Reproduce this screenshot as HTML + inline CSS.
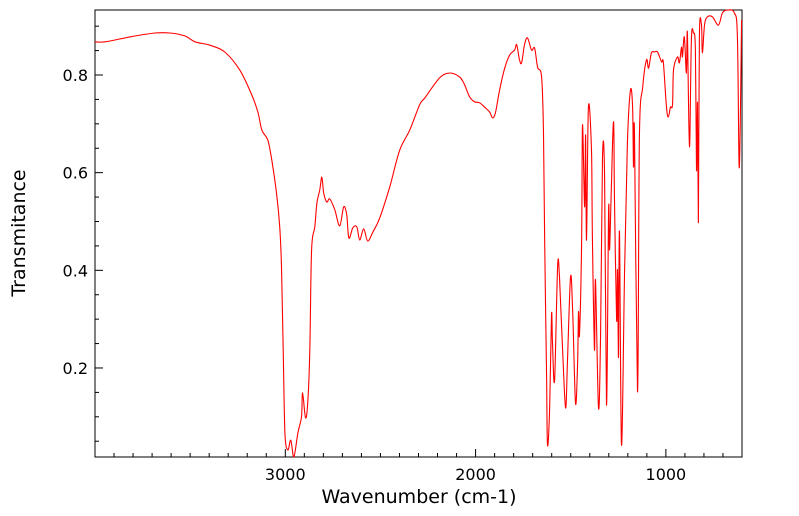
<!DOCTYPE html>
<html><head><meta charset="utf-8"><style>
html,body{margin:0;padding:0;background:#fff;}
svg{display:block;font-family:"DejaVu Sans","Liberation Sans",sans-serif;}
</style></head><body>
<svg id="chart" width="799" height="516">
<rect x="95" y="10" width="647" height="447" fill="#fff" stroke="#000" stroke-width="1"/>
<g id="ticks"></g>
<g id="tlabels"></g>
<path id="line" fill="none" stroke="#ff0000" stroke-width="1.1" stroke-linejoin="round"/>
<text x="419" y="503" text-anchor="middle" font-size="19">Wavenumber (cm-1)</text>
<text transform="translate(25,233) rotate(-90)" text-anchor="middle" font-size="19">Transmitance</text>
</svg>
<script>
const wavenumbers=[4000,3947,3816,3685,3606,3528,3475,3396,3318,3239,3176,3144,3123,3092,3071,3046,3029,3020,3011,3002,2987,2971,2955,2934,2915,2909,2894,2882,2871,2862,2845,2834,2819,2808,2798,2782,2766,2740,2714,2693,2677,2666,2645,2624,2609,2588,2567,2540,2504,2451,2399,2346,2294,2267,2189,2136,2084,2058,2031,2005,1979,1952,1926,1910,1895,1874,1847,1821,1795,1784,1769,1758,1743,1727,1706,1690,1674,1653,1643,1637,1627,1622,1611,1601,1596,1585,1569,1559,1543,1527,1517,1501,1490,1475,1464,1459,1454,1443,1438,1427,1422,1417,1407,1391,1386,1375,1370,1354,1343,1333,1322,1312,1301,1296,1286,1275,1270,1259,1254,1249,1244,1233,1217,1202,1186,1175,1170,1165,1149,1139,1122,1102,1091,1076,1060,1044,1023,1013,997,987,976,965,960,939,929,918,913,903,892,887,876,866,855,845,839,834,829,824,813,808,797,782,755,724,703,677,640,624,614,602];
const transmittance=[0.868,0.868,0.878,0.886,0.886,0.880,0.868,0.861,0.847,0.810,0.759,0.724,0.687,0.667,0.626,0.558,0.487,0.407,0.237,0.067,0.032,0.052,0.018,0.067,0.100,0.149,0.098,0.128,0.237,0.442,0.489,0.538,0.564,0.591,0.558,0.540,0.546,0.524,0.491,0.530,0.513,0.466,0.487,0.489,0.462,0.485,0.460,0.478,0.507,0.571,0.646,0.687,0.739,0.753,0.794,0.804,0.796,0.780,0.755,0.745,0.743,0.734,0.724,0.712,0.724,0.769,0.814,0.841,0.851,0.862,0.831,0.825,0.862,0.876,0.851,0.855,0.816,0.796,0.681,0.456,0.181,0.042,0.114,0.309,0.251,0.175,0.407,0.386,0.237,0.118,0.216,0.386,0.319,0.128,0.210,0.315,0.268,0.456,0.698,0.530,0.677,0.462,0.734,0.646,0.468,0.237,0.380,0.118,0.272,0.632,0.591,0.124,0.524,0.442,0.579,0.704,0.544,0.298,0.401,0.222,0.478,0.042,0.401,0.661,0.769,0.734,0.612,0.681,0.151,0.673,0.775,0.831,0.814,0.845,0.847,0.847,0.827,0.825,0.734,0.714,0.734,0.739,0.810,0.837,0.825,0.857,0.837,0.878,0.804,0.886,0.653,0.872,0.886,0.851,0.605,0.743,0.499,0.878,0.902,0.845,0.902,0.919,0.919,0.902,0.927,0.933,0.927,0.878,0.610,0.913];
const xTickLabels=[3000,2000,1000];
const yTickLabels=[0.2,0.4,0.6,0.8];

function sx(w){return 95+(4000-w)*(647/3400);}
function sy(t){return 75+(0.8-t)*488.3;}
const NS='http://www.w3.org/2000/svg';
const P=wavenumbers.map((w,i)=>[sx(w),sy(transmittance[i])]);
let d='M'+P[0][0].toFixed(1)+','+P[0][1].toFixed(1);
for(let i=0;i<P.length-1;i++){
  const p0=P[Math.max(0,i-1)],p1=P[i],p2=P[i+1],p3=P[Math.min(P.length-1,i+2)];
  const k=1/6;
  const c1x=p1[0]+(p2[0]-p0[0])*k,c1y=p1[1]+(p2[1]-p0[1])*k;
  const c2x=p2[0]-(p3[0]-p1[0])*k,c2y=p2[1]-(p3[1]-p1[1])*k;
  d+='C'+c1x.toFixed(1)+','+c1y.toFixed(1)+' '+c2x.toFixed(1)+','+c2y.toFixed(1)+' '+p2[0].toFixed(1)+','+p2[1].toFixed(1);
}
document.getElementById('line').setAttribute('d',d);
const tg=document.getElementById('ticks'),lg=document.getElementById('tlabels');
function ln(x1,y1,x2,y2){const l=document.createElementNS(NS,'line');l.setAttribute('x1',x1);l.setAttribute('y1',y1);l.setAttribute('x2',x2);l.setAttribute('y2',y2);l.setAttribute('stroke','#000');


tg.appendChild(l);}
for(let w=3900;w>=700;w-=100){const x=sx(w);const major=w%1000===0;ln(x,457,x,457-(major?8:4));}
for(let k=1;k<=18;k++){const t=k*0.05;const y=sy(t);if(y<10||y>457)continue;const major=Math.abs(t*5-Math.round(t*5))<1e-6;ln(95,y,95+(major?8:4),y);}
xTickLabels.forEach(v=>{const t=document.createElementNS(NS,'text');t.setAttribute('x',sx(v));t.setAttribute('y',480);t.setAttribute('text-anchor','middle');t.setAttribute('font-size','16');t.textContent=v;


lg.appendChild(t);});
yTickLabels.forEach(v=>{const t=document.createElementNS(NS,'text');t.setAttribute('x',88);t.setAttribute('y',sy(v)+6);t.setAttribute('text-anchor','end');t.setAttribute('font-size','16');t.textContent=v.toFixed(1);


lg.appendChild(t);});
</script>
</body></html>
